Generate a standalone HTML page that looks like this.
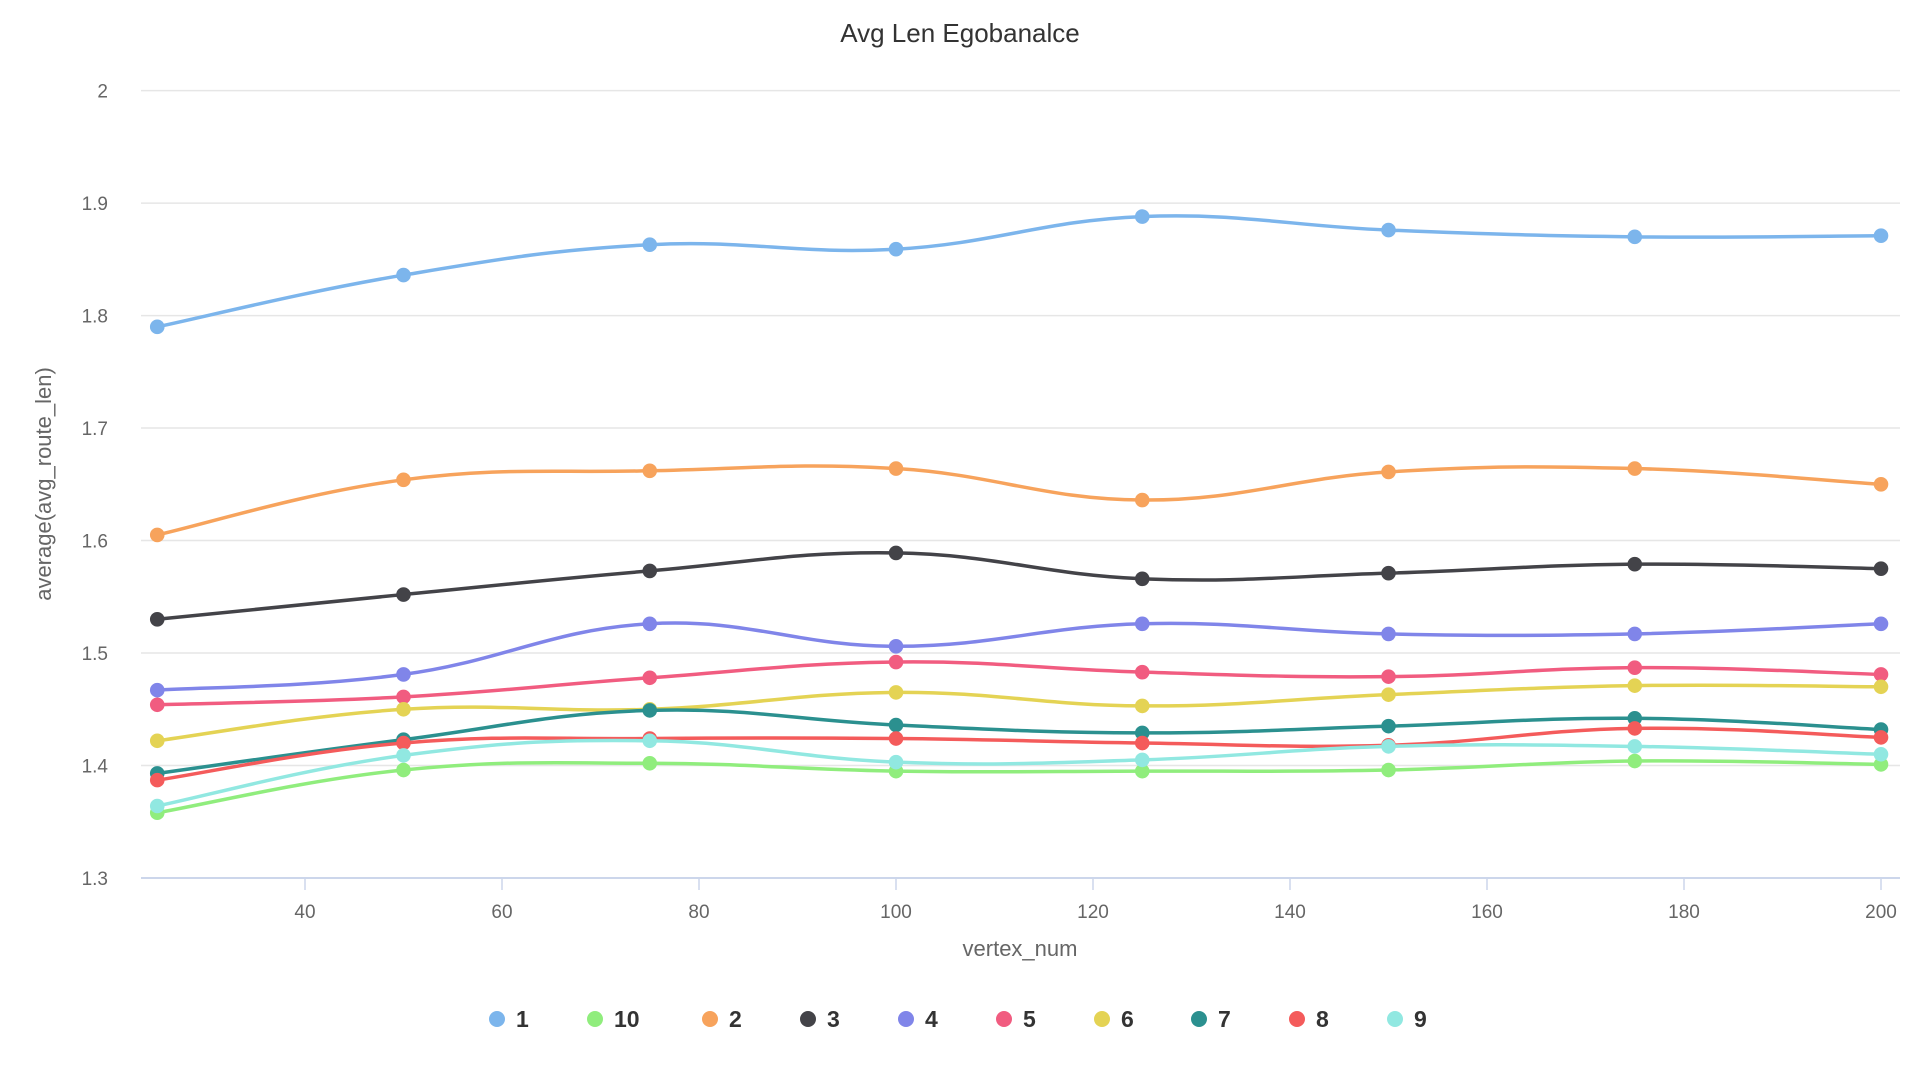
<!DOCTYPE html>
<html><head><meta charset="utf-8"><style>
html,body{margin:0;padding:0;background:#fff;width:1920px;height:1080px;overflow:hidden}
svg{display:block;font-family:"Liberation Sans",sans-serif}
</style></head><body>
<svg id="chart" width="1920" height="1080">
<text x="960" y="42" text-anchor="middle" font-size="26" fill="#333">Avg Len Egobanalce</text>
<g id="grid"></g><g id="series"></g><g id="legend"></g>
<text x="1020" y="956" text-anchor="middle" font-size="22" fill="#666">vertex_num</text>
<text transform="translate(51,484) rotate(-90)" text-anchor="middle" font-size="22" fill="#666">average(avg_route_len)</text>
</svg>
<script>
const xValues=[25,50,75,100,125,150,175,200];
const seriesNames=["1","10","2","3","4","5","6","7","8","9"];
const seriesColors=["#7cb5ec","#90ed7d","#f7a35c","#434348","#8085e9","#f15c80","#e4d354","#2b908f","#f45b5b","#91e8e1"];
const s1=[1.790,1.836,1.863,1.859,1.888,1.876,1.870,1.871];
const s10=[1.358,1.396,1.402,1.395,1.395,1.396,1.404,1.401];
const s2=[1.605,1.654,1.662,1.664,1.636,1.661,1.664,1.650];
const s3=[1.530,1.552,1.573,1.589,1.566,1.571,1.579,1.575];
const s4=[1.467,1.481,1.526,1.506,1.526,1.517,1.517,1.526];
const s5=[1.454,1.461,1.478,1.492,1.483,1.479,1.487,1.481];
const s6=[1.422,1.450,1.450,1.465,1.453,1.463,1.471,1.470];
const s7=[1.393,1.423,1.449,1.436,1.429,1.435,1.442,1.432];
const s8=[1.387,1.420,1.424,1.424,1.420,1.418,1.433,1.425];
const s9=[1.364,1.409,1.422,1.403,1.405,1.417,1.417,1.410];
const seriesValues=[s1,s10,s2,s3,s4,s5,s6,s7,s8,s9];
const yTicks=[1.3,1.4,1.5,1.6,1.7,1.8,1.9,2];
const xTicks=[40,60,80,100,120,140,160,180,200];

const NS="http://www.w3.org/2000/svg";
const X=v=>305+(v-40)*(1881-305)/160;
const Y=v=>878-(v-1.3)*(878-90.6)/0.7;
function mk(t,a,p){const e=document.createElementNS(NS,t);for(const k in a)e.setAttribute(k,a[k]);p.appendChild(e);return e;}
const grid=document.getElementById('grid');
yTicks.forEach(t=>{
  const l=mk('line',{x1:141,x2:1900,y1:Y(t),y2:Y(t),stroke:t===1.3?'#ccd6eb':'#e6e6e6','stroke-width':t===1.3?2:1.5},grid);
  
  
  const tx=mk('text',{x:108,y:Y(t)+7,'text-anchor':'end','font-size':19,fill:'#666'},grid);
  tx.textContent=String(t);
  
  
});
xTicks.forEach(t=>{
  const l=mk('line',{x1:X(t),x2:X(t),y1:878,y2:890,stroke:'#ccd6eb','stroke-width':1.5},grid);
  
  
  const tx=mk('text',{x:X(t),y:918,'text-anchor':'middle','font-size':19,fill:'#666'},grid);
  tx.textContent=String(t);
  
  
});
function path(pts){
  let d=`M${pts[0][0]},${pts[0][1]}`;
  const s=0.2;
  for(let i=0;i<pts.length-1;i++){
    const p0=pts[i-1]||pts[i],p1=pts[i],p2=pts[i+1],p3=pts[i+2]||p2;
    const c1=[p1[0]+(p2[0]-p0[0])*s,p1[1]+(p2[1]-p0[1])*s];
    const c2=[p2[0]-(p3[0]-p1[0])*s,p2[1]-(p3[1]-p1[1])*s];
    d+=` C${c1[0]},${c1[1]} ${c2[0]},${c2[1]} ${p2[0]},${p2[1]}`;
  }
  return d;
}
const sg=document.getElementById('series');
seriesValues.forEach((vals,i)=>{
  const g=mk('g',{},sg);
  
  
  const pts=vals.map((v,j)=>[X(xValues[j]),Y(v)]);
  const p=mk('path',{d:path(pts),fill:'none',stroke:seriesColors[i],'stroke-width':3.5},g);
  
  
  pts.forEach(pt=>{
    const c=mk('circle',{cx:pt[0],cy:pt[1],r:7.3,fill:seriesColors[i]},g);
    
    
  });
});
const lg=document.getElementById('legend');
const legX=[497,595,710,808,906,1004,1102,1199,1297,1395];
seriesNames.forEach((n,i)=>{
  const g=mk('g',{},lg);
  
  
  mk('circle',{cx:legX[i],cy:1019,r:8,fill:seriesColors[i]},g);
  const t=mk('text',{x:legX[i]+19,y:1027,'font-size':23,'font-weight':'bold',fill:'#333'},g);
  t.textContent=n;
});
</script>
</body></html>
